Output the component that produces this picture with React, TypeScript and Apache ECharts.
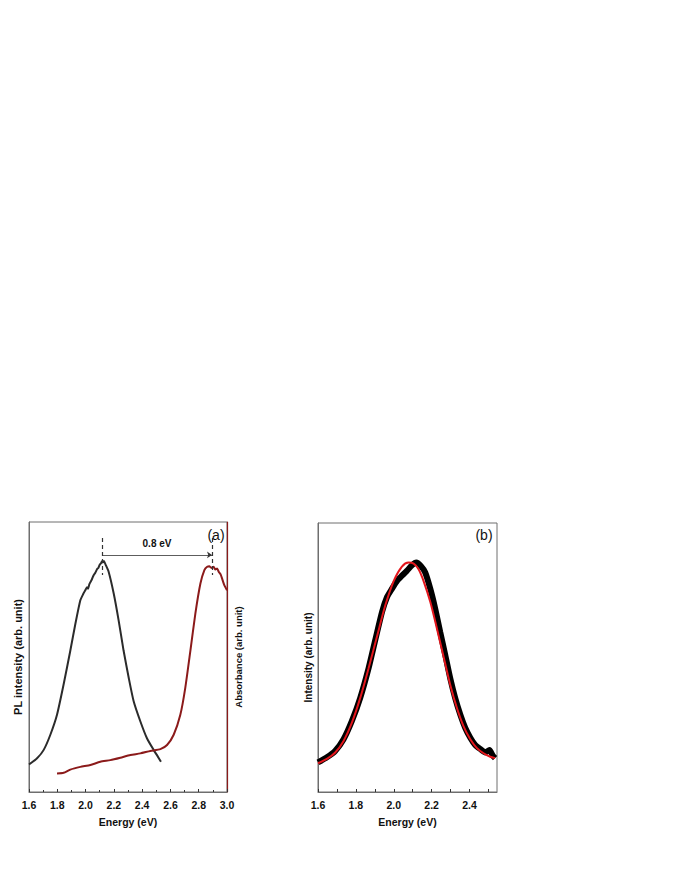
import React, { useEffect, useRef } from "react";
import * as echarts from "echarts";

// ---------- Panel (a): PL spectrum ----------
const plEnergy = [1.6, 1.657, 1.704, 1.751, 1.798, 1.845, 1.892, 1.928, 1.963, 1.985, 1.998, 2.01, 2.018, 2.027, 2.045, 2.057, 2.069, 2.081, 2.09, 2.1, 2.108, 2.116, 2.123, 2.13, 2.14, 2.163, 2.199, 2.234, 2.269, 2.305, 2.34, 2.387, 2.434, 2.481, 2.51, 2.533];
const plIntensity = [10.2, 12.5, 15.6, 21.2, 28.6, 39.9, 52.3, 62.3, 71.0, 73.5, 74.7, 75.8, 75.3, 77.0, 78.8, 80.3, 81.2, 82.5, 83.0, 84.2, 84.6, 85.5, 85.0, 85.6, 84.4, 81.6, 73.5, 63.5, 52.3, 42.3, 33.6, 26.2, 19.9, 15.6, 13.2, 11.2];

// ---------- Panel (a): Absorbance spectrum ----------
const absEnergy = [1.798, 1.845, 1.892, 1.963, 2.034, 2.104, 2.175, 2.246, 2.317, 2.387, 2.458, 2.529, 2.576, 2.623, 2.67, 2.705, 2.741, 2.776, 2.812, 2.84, 2.86, 2.875, 2.89, 2.905, 2.918, 2.93, 2.941, 2.955, 2.965, 2.981, 3.0];
const absValue = [6.85, 7.1, 8.3, 9.3, 10.0, 11.2, 11.8, 12.7, 13.7, 14.3, 15.2, 15.9, 17.4, 21.2, 28.6, 38.6, 52.3, 66.0, 77.2, 82.2, 83.4, 83.6, 83.0, 83.4, 82.4, 82.8, 81.6, 80.6, 79.1, 76.6, 74.7];

// ---------- Panel (b): PL data and fit ----------
const dataEnergy = [1.6, 1.647, 1.691, 1.735, 1.779, 1.823, 1.867, 1.902, 1.938, 1.964, 1.99, 2.017, 2.043, 2.069, 2.096, 2.119, 2.143, 2.166, 2.193, 2.219, 2.245, 2.272, 2.298, 2.324, 2.351, 2.377, 2.404, 2.43, 2.456, 2.483, 2.505, 2.523, 2.535];
const dataIntensity = [11.0, 12.9, 15.3, 19.6, 26.4, 35.0, 46.0, 56.4, 66.9, 72.4, 75.5, 78.5, 80.4, 82.2, 84.3, 85.3, 84.0, 81.6, 75.5, 68.1, 59.5, 50.9, 42.3, 35.0, 28.8, 23.9, 20.2, 17.5, 16.0, 14.7, 15.6, 13.5, 12.6];
const fitEnergy = [1.6, 1.647, 1.691, 1.735, 1.779, 1.823, 1.867, 1.911, 1.955, 2.0, 2.043, 2.078, 2.105, 2.131, 2.157, 2.193, 2.228, 2.263, 2.298, 2.333, 2.368, 2.404, 2.439, 2.474, 2.509, 2.535];
const fitIntensity = [10.7, 12.3, 14.7, 19.0, 25.8, 35.0, 46.0, 57.7, 69.3, 78.5, 83.8, 85.3, 84.9, 82.8, 78.5, 70.6, 60.7, 50.3, 39.9, 31.3, 24.5, 19.6, 16.3, 14.4, 13.1, 12.6];

// ---------- Annotations & ticks ----------
const plPeak = 2.116;
const absPeak = 2.894;
const gapLabel = "0.8 eV";
const bTickValues = [1.6, 1.7, 1.8, 1.9, 2.0, 2.1, 2.2, 2.3, 2.4, 2.5];
const bLabelValues = [1.6, 1.8, 2.0, 2.2, 2.4];

const FONT = "'Liberation Sans', Arial, Helvetica, sans-serif";
const pairs = (xs: number[], ys: number[]) => xs.map((x, i) => [x, ys[i]]);

export default function App() {
  const ref = useRef<HTMLDivElement>(null);
  useEffect(() => {
    if (!ref.current) return;
    const chart = echarts.init(ref.current, null, { renderer: "svg" });
    const axisGray = "#6e6e6e";
    const darkRed = "#8b1a1a";
    const xCommon = {
      type: "value" as const,
      axisLine: { onZero: false, lineStyle: { color: axisGray, width: 1 } },
      axisTick: { inside: true, length: 3, lineStyle: { color: "#333" } },
      minorTick: { show: true, splitNumber: 2, length: 2, lineStyle: { color: "#333" } },
      splitLine: { show: false },
      axisLabel: { color: "#111", fontFamily: FONT, fontWeight: "bold", fontSize: 10.5, margin: 7, formatter: (v: number) => v.toFixed(1) },
      name: "Energy (eV)",
      nameLocation: "middle" as const,
      nameGap: 24,
      nameTextStyle: { color: "#111", fontFamily: FONT, fontWeight: "bold", fontSize: 10.5 },
    };
    const yCommon = {
      type: "value" as const,
      min: 0,
      max: 100,
      axisTick: { show: false },
      axisLabel: { show: false },
      splitLine: { show: false },
      nameLocation: "middle" as const,
    };
    chart.setOption({
      animation: false,
      grid: [
        { left: 29, top: 522, width: 198, height: 270, show: true, borderColor: axisGray, borderWidth: 1 },
        { left: 318, top: 523, width: 179, height: 269, show: true, borderColor: axisGray, borderWidth: 1 },
      ],
      xAxis: [
        { ...xCommon, gridIndex: 0, min: 1.6, max: 3.0, interval: 0.2 },
        {
          ...xCommon,
          gridIndex: 1,
          min: 1.6,
          max: 2.545,
          interval: 0.2,
          minorTick: { show: false },
          axisTick: { ...xCommon.axisTick, customValues: bTickValues },
          axisLabel: { ...xCommon.axisLabel, customValues: bLabelValues },
        },
      ],
      yAxis: [
        {
          ...yCommon,
          gridIndex: 0,
          position: "left",
          axisLine: { show: true, lineStyle: { color: axisGray } },
          name: "PL intensity (arb. unit)",
          nameGap: 6,
          nameTextStyle: { color: "#111", fontFamily: FONT, fontWeight: "bold", fontSize: 11 },
        },
        {
          ...yCommon,
          gridIndex: 0,
          position: "right",
          axisLine: { show: true, lineStyle: { color: darkRed, width: 1.2 } },
          name: "Absorbance (arb. unit)",
          nameGap: 6,
          nameTextStyle: { color: "#111", fontFamily: FONT, fontWeight: "bold", fontSize: 9.5 },
        },
        {
          ...yCommon,
          gridIndex: 1,
          position: "left",
          axisLine: { show: true, lineStyle: { color: axisGray } },
          name: "Intensity (arb. unit)",
          nameGap: 5,
          nameTextStyle: { color: "#111", fontFamily: FONT, fontWeight: "bold", fontSize: 10 },
        },
      ],
      series: [
        {
          name: "PL",
          type: "line",
          xAxisIndex: 0,
          yAxisIndex: 0,
          data: pairs(plEnergy, plIntensity),
          showSymbol: false,
          smooth: 0.2,
          lineStyle: { color: "#2b2b2b", width: 2 },
          markLine: {
            silent: true,
            symbol: "none",
            label: { show: false },
            lineStyle: { color: "#333", type: [4, 3], width: 1.2 },
            data: [
              [{ coord: [plPeak, 94.1] }, { coord: [plPeak, 80.4] }],
              [{ coord: [absPeak, 94.1] }, { coord: [absPeak, 80.4] }],
            ],
          },
        },
        {
          name: "Absorbance",
          type: "line",
          xAxisIndex: 0,
          yAxisIndex: 1,
          data: pairs(absEnergy, absValue),
          showSymbol: false,
          smooth: 0.2,
          lineStyle: { color: darkRed, width: 2 },
          markLine: {
            silent: true,
            symbol: ["none", "arrow"],
            symbolSize: 5,
            lineStyle: { color: "#333", type: "solid", width: 0.8 },
            label: {
              show: true,
              position: "insideMiddleTop",
              distance: 6,
              formatter: gapLabel,
              color: "#111",
              fontFamily: FONT,
              fontWeight: "bold",
              fontSize: 10,
            },
            data: [[{ coord: [plPeak, 87.8] }, { coord: [absPeak, 87.8] }]],
          },
        },
        {
          name: "Data",
          type: "line",
          xAxisIndex: 1,
          yAxisIndex: 2,
          data: pairs(dataEnergy, dataIntensity),
          showSymbol: false,
          smooth: 0.2,
          lineStyle: { color: "#000", width: 6 },
        },
        {
          name: "Fit",
          type: "line",
          xAxisIndex: 1,
          yAxisIndex: 2,
          data: pairs(fitEnergy, fitIntensity),
          showSymbol: false,
          smooth: 0.3,
          lineStyle: { color: "#e3161c", width: 2 },
        },
      ],
      graphic: [
        { type: "text", x: 216, y: 535, style: { text: "(a)", fill: "#111", font: `14px ${FONT}`, textAlign: "center", textVerticalAlign: "middle" } },
        { type: "text", x: 484, y: 535, style: { text: "(b)", fill: "#111", font: `14px ${FONT}`, textAlign: "center", textVerticalAlign: "middle" } },
      ],
    });
    return () => chart.dispose();
  }, []);
  return <div ref={ref} style={{ position: "fixed", left: 0, top: 0, width: 680, height: 880, background: "#fff" }} />;
}
